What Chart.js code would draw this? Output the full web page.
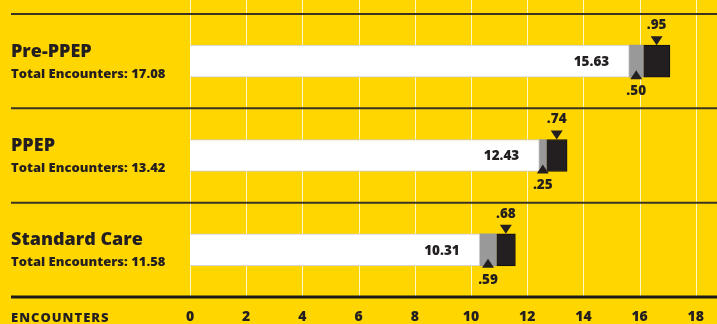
<!DOCTYPE html>
<html><head><meta charset="utf-8">
<script src="https://cdn.jsdelivr.net/npm/chart.js@4/dist/chart.umd.min.js"></script>
<style>html,body{margin:0;padding:0;background:#FFD600;}canvas{display:block}</style>
</head><body>
<canvas id="c" width="717" height="324"></canvas>
<script>
const categories = ['Pre-PPEP', 'PPEP', 'Standard Care'];
const totalLabels = ['17.08', '13.42', '11.58'];
const baseValues = [15.63, 12.43, 10.31];
const lowValues = [0.50, 0.25, 0.59];
const highValues = [0.95, 0.74, 0.68];
const baseLabels = ['15.63', '12.43', '10.31'];
const lowLabels = ['.50', '.25', '.59'];
const highLabels = ['.95', '.74', '.68'];
const axisMin = 0, axisMax = 18, axisStep = 2;
const axisTitle = 'ENCOUNTERS';

const FONT = "'Open Sans', 'Noto Sans', sans-serif";
const INK = '#231f20';
const BG = '#FFD600';

function bandBounds(chart, i) {
  const y = chart.scales.y, a = chart.chartArea, n = categories.length;
  const top = i === 0 ? a.top : (y.getPixelForValue(i - 1) + y.getPixelForValue(i)) / 2;
  const bottom = i === n - 1 ? a.bottom : (y.getPixelForValue(i) + y.getPixelForValue(i + 1)) / 2;
  return [top, bottom];
}

const deco = {
  id: 'deco',
  beforeDraw(chart) {
    const ctx = chart.ctx;
    ctx.save();
    ctx.fillStyle = BG;
    ctx.fillRect(0, 0, chart.width, chart.height);
    ctx.restore();
  },
  beforeDatasetsDraw(chart) {
    const ctx = chart.ctx, x = chart.scales.x, a = chart.chartArea;
    ctx.save();
    ctx.strokeStyle = 'rgba(255,255,255,0.8)';
    ctx.lineWidth = 1;
    x.ticks.forEach(t => {
      const px = Math.round(x.getPixelForValue(t.value)) + 0.5;
      ctx.beginPath(); ctx.moveTo(px, 0); ctx.lineTo(px, a.bottom); ctx.stroke();
    });
    ctx.strokeStyle = '#3a3420';
    ctx.lineWidth = 2;
    categories.forEach((c, i) => {
      const yb = bandBounds(chart, i)[0];
      ctx.beginPath(); ctx.moveTo(11, yb); ctx.lineTo(chart.width, yb); ctx.stroke();
    });
    ctx.strokeStyle = '#1a1a1a';
    ctx.lineWidth = 3;
    ctx.beginPath(); ctx.moveTo(11, a.bottom); ctx.lineTo(chart.width, a.bottom); ctx.stroke();
    ctx.restore();
  },
  afterDatasetsDraw(chart) {
    const ctx = chart.ctx;
    const m0 = chart.getDatasetMeta(0), m1 = chart.getDatasetMeta(1), m2 = chart.getDatasetMeta(2);
    ctx.save();
    ctx.fillStyle = INK;
    categories.forEach((c, i) => {
      const w = m0.data[i], g = m1.data[i], b = m2.data[i];
      const top = w.y - w.height / 2, bot = w.y + w.height / 2;
      ctx.font = `800 13.5px ${FONT}`;
      ctx.textAlign = 'right'; ctx.textBaseline = 'middle';
      ctx.fillText(baseLabels[i], w.x - 20, w.y + 1);
      const gx = (g.base + g.x) / 2;
      ctx.beginPath();
      ctx.moveTo(gx, bot - 7); ctx.lineTo(gx - 6, bot + 2); ctx.lineTo(gx + 6, bot + 2); ctx.closePath(); ctx.fill();
      ctx.textAlign = 'center';
      ctx.fillText(lowLabels[i], gx, bot + 14);
      const bx = (b.base + b.x) / 2;
      ctx.beginPath();
      ctx.moveTo(bx, top); ctx.lineTo(bx - 6, top - 9); ctx.lineTo(bx + 6, top - 9); ctx.closePath(); ctx.fill();
      ctx.fillText(highLabels[i], bx, top - 20);
    });
    ctx.restore();
  },
  afterDraw(chart) {
    const ctx = chart.ctx;
    ctx.save();
    ctx.fillStyle = INK;
    ctx.textAlign = 'left'; ctx.textBaseline = 'alphabetic';
    categories.forEach((c, i) => {
      const [top, bottom] = bandBounds(chart, i);
      const cy = (top + bottom) / 2;
      ctx.font = `800 18px ${FONT}`;
      ctx.fillText(c, 11, cy - 4.5);
      ctx.font = `800 13px ${FONT}`;
      ctx.fillText('Total Encounters: ' + totalLabels[i], 11, cy + 16.5);
    });
    ctx.font = `800 13px ${FONT}`;
    ctx.textBaseline = 'middle';
    try { ctx.letterSpacing = '1px'; } catch (e) {}
    ctx.fillText(axisTitle, 11, 318);
    ctx.restore();
  }
};

new Chart(document.getElementById('c'), {
  type: 'bar',
  data: {
    labels: categories,
    datasets: [
      { data: baseValues, backgroundColor: '#ffffff', borderColor: '#c9c9c9', borderWidth: 1, borderSkipped: 'start' },
      { data: lowValues, backgroundColor: '#999999', borderWidth: 0 },
      { data: highValues, backgroundColor: INK, borderColor: '#111', borderWidth: 1 }
    ]
  },
  options: {
    indexAxis: 'y',
    responsive: false,
    animation: false,
    devicePixelRatio: 1,
    layout: { padding: { left: 190, right: 14.5, top: 14, bottom: 0 } },
    datasets: { bar: { barThickness: 32 } },
    plugins: { legend: { display: false }, tooltip: { enabled: false } },
    scales: {
      x: {
        stacked: true, min: axisMin, max: axisMax,
        grid: { display: false, drawTicks: false },
        border: { display: false },
        afterFit(scale) { scale.height = 27; },
        ticks: { stepSize: axisStep, color: INK, padding: 13, font: { family: FONT, weight: '800', size: 14, lineHeight: 1 } }
      },
      y: { stacked: true, display: false }
    }
  },
  plugins: [deco]
});
</script>
</body></html>
